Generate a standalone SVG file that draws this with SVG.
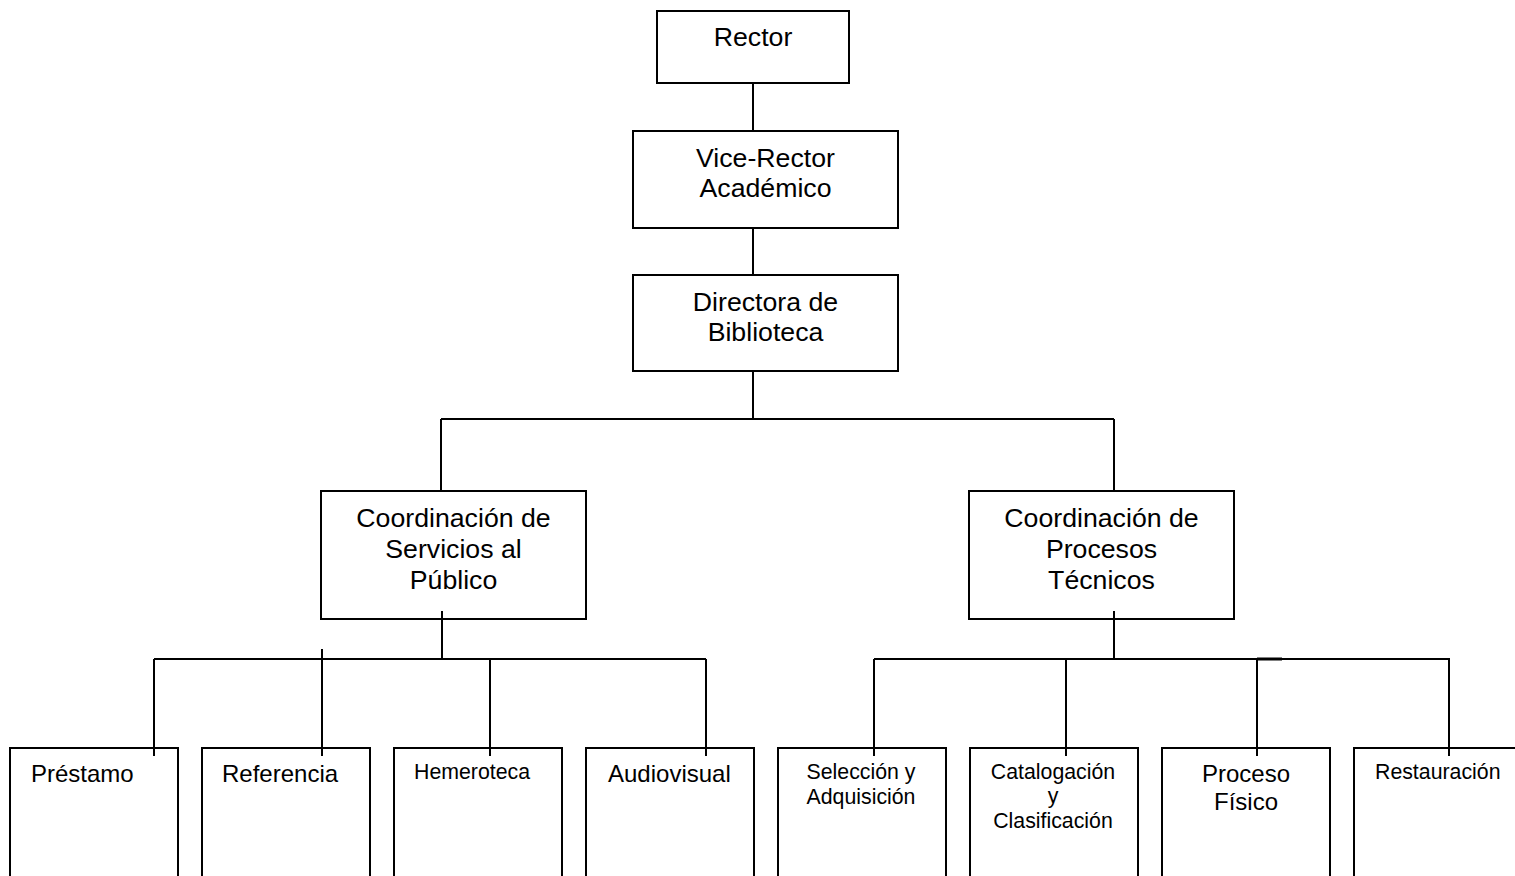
<svg xmlns="http://www.w3.org/2000/svg" width="1515" height="876" viewBox="0 0 1515 876">
<style>
.box{fill:#fff;stroke:#000;stroke-width:2}
.ln{stroke:#000;stroke-width:2;fill:none}
text{font-family:"Liberation Sans",Arial,sans-serif;fill:#000}
.l{font-size:26.7px;text-anchor:middle}
.m{font-size:24px}
.s{font-size:21.3px}
.c{text-anchor:middle}
</style>
<rect width="1515" height="876" fill="#fff"/>
<g id="rector"><rect class="box" x="657" y="11" width="192" height="72"/><text class="l" x="753" y="46">Rector</text></g>
<g id="vicerrector"><rect class="box" x="633" y="131" width="265" height="97"/><text class="l" x="765.5" y="167">Vice-Rector</text><text class="l" x="765.5" y="197">Académico</text></g>
<g id="directora"><rect class="box" x="633" y="275" width="265" height="96"/><text class="l" x="765.5" y="311">Directora de</text><text class="l" x="765.5" y="341">Biblioteca</text></g>
<g id="coord-servicios"><rect class="box" x="321" y="491" width="265" height="128"/><text class="l" x="453.5" y="527">Coordinación de</text><text class="l" x="453.5" y="558">Servicios al</text><text class="l" x="453.5" y="589">Público</text></g>
<g id="coord-procesos"><rect class="box" x="969" y="491" width="265" height="128"/><text class="l" x="1101.5" y="527">Coordinación de</text><text class="l" x="1101.5" y="558">Procesos</text><text class="l" x="1101.5" y="589">Técnicos</text></g>
<g id="prestamo"><rect class="box" x="10" y="748" width="168" height="150"/><text class="m" x="31" y="782">Préstamo</text></g>
<g id="referencia"><rect class="box" x="202" y="748" width="168" height="150"/><text class="m" x="222" y="782">Referencia</text></g>
<g id="hemeroteca"><rect class="box" x="394" y="748" width="168" height="150"/><text class="s" x="414" y="779">Hemeroteca</text></g>
<g id="audiovisual"><rect class="box" x="586" y="748" width="168" height="150"/><text class="m" x="608" y="782">Audiovisual</text></g>
<g id="seleccion"><rect class="box" x="778" y="748" width="168" height="150"/><text class="s c" x="861" y="779">Selección y</text><text class="s c" x="861" y="804">Adquisición</text></g>
<g id="catalogacion"><rect class="box" x="970" y="748" width="168" height="150"/><text class="s c" x="1053" y="779">Catalogación</text><text class="s c" x="1053" y="803">y</text><text class="s c" x="1053" y="828">Clasificación</text></g>
<g id="proceso-fisico"><rect class="box" x="1162" y="748" width="168" height="150"/><text class="m c" x="1246" y="782">Proceso</text><text class="m c" x="1246" y="810">Físico</text></g>
<g id="restauracion"><rect class="box" x="1354" y="748" width="168" height="150"/><text class="s" x="1375" y="779">Restauración</text></g>
<g id="connectors">
<path class="ln" d="M753 83V131M753 228V275M753 371V419M441 419H1114M441 419V491M1114 419V491"/>
<path class="ln" d="M442 611V659M154 659H706M154 659V756M322 649V756M490 659V756M706 659V756"/>
<path class="ln" d="M1114 611V659M874 659H1450M874 659V756M1066 659V756M1257 659V756M1449 659V756"/>
<path d="M1257 659H1282" stroke="#000" stroke-width="3"/>
</g>
</svg>
